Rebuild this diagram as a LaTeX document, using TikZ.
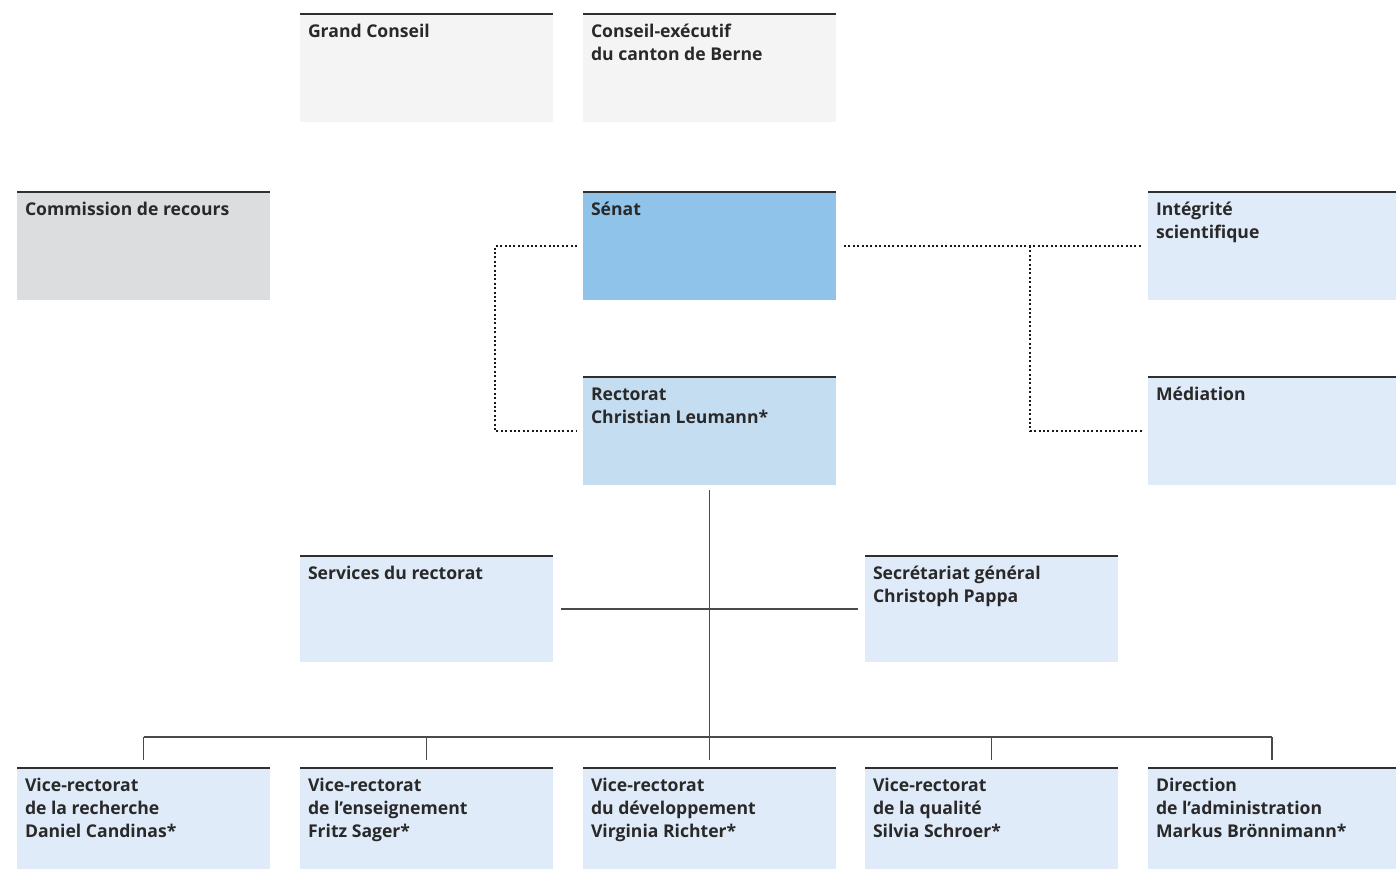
\documentclass[tikz,border=0pt]{standalone}
\usepackage{fontspec}
\setmainfont{Open Sans}
\definecolor{txt}{HTML}{2A2929}
\definecolor{topc}{HTML}{2F2F2F}
\definecolor{linec}{HTML}{4A4A4A}
\definecolor{greyA}{HTML}{F4F4F4}
\definecolor{greyB}{HTML}{DCDDDF}
\definecolor{senatc}{HTML}{8FC3EA}
\definecolor{rectc}{HTML}{C5DDF1}
\definecolor{paleb}{HTML}{DFEBF8}
\newcommand{\bt}[3]{\parbox[t][#2][t]{#1}{\raggedright\strut #3}}
\tikzset{
  orgbox/.style={rectangle, anchor=north west, inner xsep=8pt, inner ysep=8pt, outer sep=0pt,
    text=txt, font=\fontsize{17.6}{22.6}\selectfont\bfseries},
  topline/.style={draw=topc, line width=1.8pt},
  conn/.style={draw=linec, line width=1.3pt},
  dotline/.style={draw=black!90, line width=2pt, dash pattern=on 2pt off 2.4pt}
}
\begin{document}
\begin{tikzpicture}[x=1pt,y=-1pt]
\useasboundingbox (0,0) rectangle (1396,869);
% row 1
\node[orgbox, fill=greyA] (gc) at (300,14) {\bt{237pt}{92pt}{Grand Conseil}};
\node[orgbox, fill=greyA] (ce) at (583,14) {\bt{237pt}{92pt}{Conseil-exécutif\\du canton de Berne}};
% row 2
\node[orgbox, fill=greyB] (cr) at (17,192) {\bt{237pt}{92pt}{Commission de recours}};
\node[orgbox, fill=senatc] (sen) at (583,192) {\bt{237pt}{92pt}{Sénat}};
\node[orgbox, fill=paleb] (int) at (1148,192) {\bt{232pt}{92pt}{Intégrité\\scientifique}};
% row 3
\node[orgbox, fill=rectc] (rec) at (583,377) {\bt{237pt}{92pt}{Rectorat\\Christian Leumann*}};
\node[orgbox, fill=paleb] (med) at (1148,377) {\bt{232pt}{92pt}{Médiation}};
% row 4
\node[orgbox, fill=paleb] (srv) at (300,556) {\bt{237pt}{90pt}{Services du rectorat}};
\node[orgbox, fill=paleb] (sg) at (865,556) {\bt{237pt}{90pt}{Secrétariat général\\Christoph Pappa}};
% row 5
\node[orgbox, fill=paleb] (v1) at (17,768) {\bt{237pt}{85pt}{Vice-rectorat\\de la recherche\\Daniel Candinas*}};
\node[orgbox, fill=paleb] (v2) at (300,768) {\bt{237pt}{85pt}{Vice-rectorat\\de l’enseignement\\Fritz Sager*}};
\node[orgbox, fill=paleb] (v3) at (583,768) {\bt{237pt}{85pt}{Vice-rectorat\\du développement\\Virginia Richter*}};
\node[orgbox, fill=paleb] (v4) at (865,768) {\bt{237pt}{85pt}{Vice-rectorat\\de la qualité\\Silvia Schroer*}};
\node[orgbox, fill=paleb] (da) at (1148,768) {\bt{232pt}{85pt}{Direction\\de l’administration\\Markus Brönnimann*}};
% top borders
\foreach \n in {gc,ce,cr,sen,int,rec,med,srv,sg,v1,v2,v3,v4,da}
  \draw[topline] (\n.north west) -- (\n.north east);
% dotted connectors
\coordinate (dl) at (495,0);
\coordinate (dr) at (1030,0);
\draw[dotline] ([xshift=-6pt]sen.west) -- (dl |- sen.west) -- (dl |- rec.west) -- ([xshift=-6pt]rec.west);
\draw[dotline] ([xshift=8pt]sen.east) -- ([xshift=-5pt]int.west);
\draw[dotline] (dr |- int.west) -- (dr |- med.west) -- ([xshift=-5pt]med.west);
% solid connectors
\coordinate (bus) at (0,737);
\draw[conn] ([yshift=-5pt]rec.south) -- ([yshift=8pt]v3.north);
\draw[conn] ([xshift=8pt]srv.east) -- ([xshift=-7pt]sg.west);
\draw[conn] (v1.north |- bus) -- (da.north |- bus);
\foreach \n in {v1,v2,v4,da}
  \draw[conn] (\n.north |- bus) -- ([yshift=8pt]\n.north);
\end{tikzpicture}
\end{document}
